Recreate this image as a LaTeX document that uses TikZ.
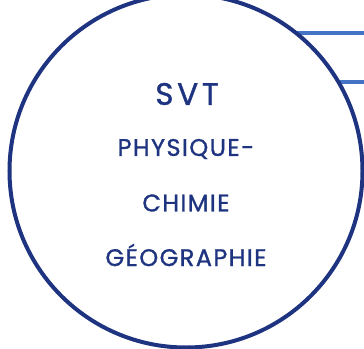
\documentclass[tikz,border=0pt]{standalone}
\usepackage{fontspec}
\setmainfont{Poppins}
\usepackage{tikz}

\definecolor{navy}{HTML}{1F3480}
\definecolor{lineblue}{HTML}{4472C4}

\begin{document}
\begin{tikzpicture}[x=1pt,y=-1pt]
        \useasboundingbox (0,0) rectangle (364,348);
        \coordinate (l1a) at (295,33);
        \coordinate (l1b) at (364,33);
        \coordinate (l2a) at (338,82);
        \coordinate (l2b) at (364,82);
        \draw[line width=3.5pt, color=lineblue] (l1a) -- (l1b);
        \draw[line width=3.5pt, color=lineblue] (l2a) -- (l2b);
        \node[circle, draw=navy, line width=4pt, minimum size=353pt, inner sep=0pt] (circ) at (186,171) {};
        \node[font = {\fontsize{31}{31}\selectfont\addfontfeatures{LetterSpace=12,FakeBold=1.2}}, navy] (svt) at (187,94) {SVT};
        \node[font = {\fontsize{24}{24}\selectfont\addfontfeatures{LetterSpace=6,FakeBold=1.2}}, navy] (phys) at (186,149) {PHYSIQUE-};
        \node[font = {\fontsize{24}{24}\selectfont\addfontfeatures{LetterSpace=6,FakeBold=1.2}}, navy] (chim) at (186,203) {CHIMIE};
        \node[font = {\fontsize{24}{24}\selectfont\addfontfeatures{LetterSpace=6,FakeBold=1.2}}, navy] (geo) at (186,255) {GÉOGRAPHIE};
    \end{tikzpicture}
\end{document}
